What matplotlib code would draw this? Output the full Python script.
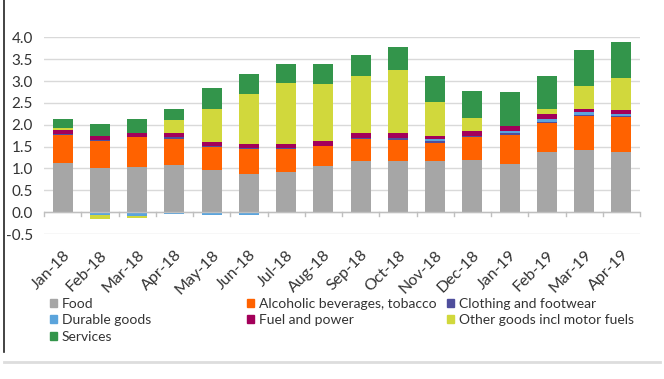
import numpy as np
import matplotlib.pyplot as plt
from matplotlib.lines import Line2D
from matplotlib.patches import Patch

plt.rcParams['font.family'] = ['Lato', 'DejaVu Sans']

#%% data (contributions, pp)
months = ['Jan-18', 'Feb-18', 'Mar-18', 'Apr-18', 'May-18', 'Jun-18', 'Jul-18', 'Aug-18',
          'Sep-18', 'Oct-18', 'Nov-18', 'Dec-18', 'Jan-19', 'Feb-19', 'Mar-19', 'Apr-19']
food     = [1.12, 1.01, 1.04, 1.08, 0.97, 0.88, 0.92, 1.05, 1.17, 1.17, 1.16, 1.20, 1.11, 1.38, 1.42, 1.38]
alcohol  = [0.64, 0.62, 0.67, 0.60, 0.51, 0.57, 0.52, 0.46, 0.51, 0.48, 0.42, 0.51, 0.65, 0.65, 0.77, 0.79]
clothing = [0.02, 0.01, 0.01, 0.04, 0.03, 0.02, 0.02, 0.01, 0.02, 0.04, 0.04, 0.04, 0.04, 0.03, 0.03, 0.03]
durable  = [-0.02, -0.06, -0.08, -0.05, -0.07, -0.06, 0.0, 0.0, 0.0, 0.0, 0.05, 0.0, 0.06, 0.08, 0.06, 0.05]
fuel     = [0.11, 0.11, 0.10, 0.09, 0.09, 0.10, 0.11, 0.10, 0.10, 0.12, 0.08, 0.11, 0.10, 0.10, 0.07, 0.08]
other    = [0.03, -0.09, -0.05, 0.29, 0.77, 1.14, 1.39, 1.31, 1.31, 1.44, 0.77, 0.29, -0.02, 0.12, 0.53, 0.73]
services = [0.20, 0.27, 0.31, 0.25, 0.48, 0.45, 0.44, 0.47, 0.49, 0.52, 0.60, 0.62, 0.78, 0.75, 0.82, 0.83]

names = ['Food', 'Alcoholic beverages, tobacco', 'Clothing and footwear', 'Durable goods',
         'Fuel and power', 'Other goods incl motor fuels', 'Services']
series = [food, alcohol, clothing, durable, fuel, other, services]
colors = ['#A6A6A6', '#FF6200', '#4F4E9C', '#5BA4DC', '#A3005A', '#D1D83C', '#33954B']

#%%
fig = plt.figure(figsize=(6.64, 3.79), dpi=100)
ax = fig.add_axes([44/664, 1-234/379, 596/664, (234-37.3)/379])

x = np.arange(len(months))
pos = np.zeros(len(months))
neg = np.zeros(len(months))
for vals, c in zip(series, colors):
    v = np.array(vals)
    bottom = np.where(v >= 0, pos, neg)
    ax.bar(x, v, 0.54, bottom=bottom, color=c, zorder=3)
    pos = pos + np.clip(v, 0, None)
    neg = neg + np.clip(v, None, 0)

ax.set_xlim(-0.5, len(months)-0.5)
ax.set_ylim(-0.5, 4.0)
ax.set_yticks(np.arange(-0.5, 4.01, 0.5))
ax.set_yticklabels(['%.1f' % t for t in np.arange(-0.5, 4.01, 0.5)])
ax.grid(axis='y', color='#D9D9D9', lw=1, zorder=0)
for s in ax.spines.values():
    s.set_visible(False)
ax.axhline(0, color='#BFBFBF', lw=1, zorder=4)
ax.tick_params(axis='y', length=0, labelsize=11, colors='#333333', pad=8)
ax.set_xticks(x)
ax.set_xticklabels(months, rotation=45, ha='right', rotation_mode='anchor', fontsize=11.5, color='#333333')
ax.tick_params(axis='x', length=0, pad=10)
# small separators on the zero line
for b in np.arange(-0.5, len(months), 1.0):
    ax.plot([b, b], [0, -0.08], color='#BFBFBF', lw=1, zorder=4, clip_on=False)

# legend in three fixed columns
handles = [Patch(color=c) for c in colors]
cols = [([0, 3, 6], 50), ([1, 4], 247), ([2, 5], 447)]
for idx, px in cols:
    leg = fig.legend([handles[i] for i in idx], [names[i] for i in idx], loc='upper left',
                     bbox_to_anchor=(px/664, 1-298/379), frameon=False, fontsize=10,
                     handlelength=0.5, handleheight=0.5, handletextpad=0.36,
                     labelspacing=0.31, borderaxespad=0, borderpad=0)
    for t in leg.get_texts():
        t.set_color('#333333')

# frame decoration
fig.add_artist(Line2D([4/664, 4/664], [1, 1-352/379], color='#222222', lw=1.2))
fig.add_artist(Line2D([4/664, 660/664], [1-362/379, 1-362/379], color='#DDDDDD', lw=2))

fig.savefig('out.png', dpi=100)
